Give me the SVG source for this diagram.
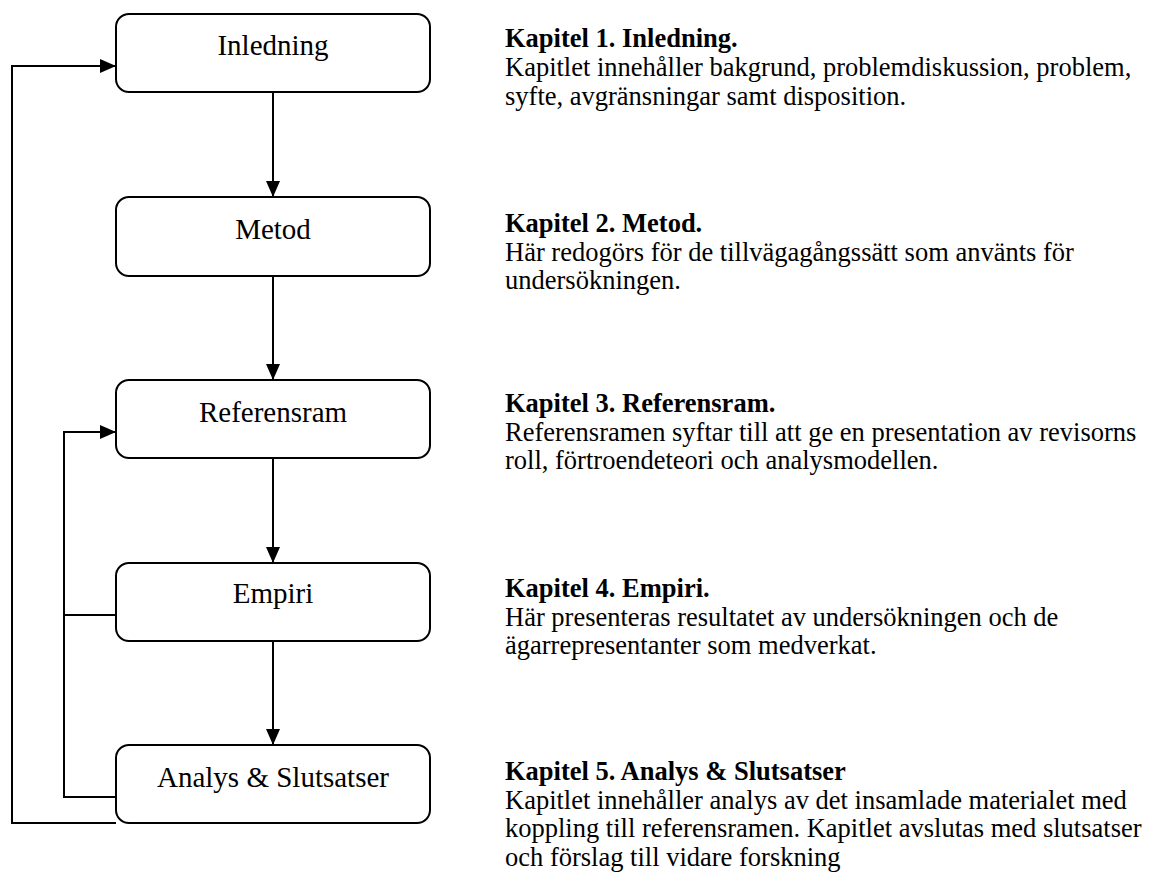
<svg xmlns="http://www.w3.org/2000/svg" width="1151" height="877" viewBox="0 0 1151 877">
<style>
.box{fill:#fff;stroke:#000;stroke-width:2}
.lbl{font-family:"Liberation Serif","Times New Roman",serif;font-size:29px;text-anchor:middle;fill:#000}
.conn{fill:none;stroke:#000;stroke-width:2}
.t{font-family:"Liberation Serif","Times New Roman",serif;font-size:26.5px;fill:#000}
.b{font-weight:bold}
</style>
<defs>
<marker id="arr" markerUnits="userSpaceOnUse" markerWidth="16" markerHeight="14" refX="16" refY="7" orient="auto">
<path d="M0,0 L16,7 L0,14 Z" fill="#000"/>
</marker>
</defs>
<rect width="1151" height="877" fill="#fff"/>
<g id="connectors">
<line class="conn" x1="273" y1="92" x2="273" y2="197" marker-end="url(#arr)"/>
<line class="conn" x1="273" y1="276" x2="273" y2="380" marker-end="url(#arr)"/>
<line class="conn" x1="273" y1="458" x2="273" y2="563" marker-end="url(#arr)"/>
<line class="conn" x1="273" y1="641" x2="273" y2="745" marker-end="url(#arr)"/>
<polyline class="conn" points="116,823 12,823 12,66 116,66" marker-end="url(#arr)"/>
<polyline class="conn" points="116,797 64,797 64,432 116,432" marker-end="url(#arr)"/>
<line class="conn" x1="116" y1="615" x2="64" y2="615"/>
</g>
<g id="inledning">
<rect class="box" x="116" y="14" width="314" height="78" rx="13"/>
<text class="lbl" x="273" y="55">Inledning</text>
</g>
<g id="metod">
<rect class="box" x="116" y="197" width="314" height="79" rx="13"/>
<text class="lbl" x="273" y="239">Metod</text>
</g>
<g id="referensram">
<rect class="box" x="116" y="380" width="314" height="78" rx="13"/>
<text class="lbl" x="273" y="422">Referensram</text>
</g>
<g id="empiri">
<rect class="box" x="116" y="563" width="314" height="78" rx="13"/>
<text class="lbl" x="273" y="603">Empiri</text>
</g>
<g id="analys">
<rect class="box" x="116" y="745" width="314" height="78" rx="13"/>
<text class="lbl" x="273" y="787">Analys &amp; Slutsatser</text>
</g>
<g id="descriptions">
<text class="t b" x="505" y="47">Kapitel 1. Inledning.</text>
<text class="t" x="505" y="76">Kapitlet innehåller bakgrund, problemdiskussion, problem,</text>
<text class="t" x="505" y="105">syfte, avgränsningar samt disposition.</text>
<text class="t b" x="505" y="232">Kapitel 2. Metod.</text>
<text class="t" x="505" y="260.5">Här redogörs för de tillvägagångssätt som använts för</text>
<text class="t" x="505" y="289">undersökningen.</text>
<text class="t b" x="505" y="412">Kapitel 3. Referensram.</text>
<text class="t" x="505" y="440.5">Referensramen syftar till att ge en presentation av revisorns</text>
<text class="t" x="505" y="469">roll, förtroendeteori och analysmodellen.</text>
<text class="t b" x="505" y="597">Kapitel 4. Empiri.</text>
<text class="t" x="505" y="625.5">Här presenteras resultatet av undersökningen och de</text>
<text class="t" x="505" y="654">ägarrepresentanter som medverkat.</text>
<text class="t b" x="505" y="780">Kapitel 5. Analys &amp; Slutsatser</text>
<text class="t" x="505" y="808.5">Kapitlet innehåller analys av det insamlade materialet med</text>
<text class="t" x="505" y="837">koppling till referensramen. Kapitlet avslutas med slutsatser</text>
<text class="t" x="505" y="865.5">och förslag till vidare forskning</text>
</g>
</svg>
